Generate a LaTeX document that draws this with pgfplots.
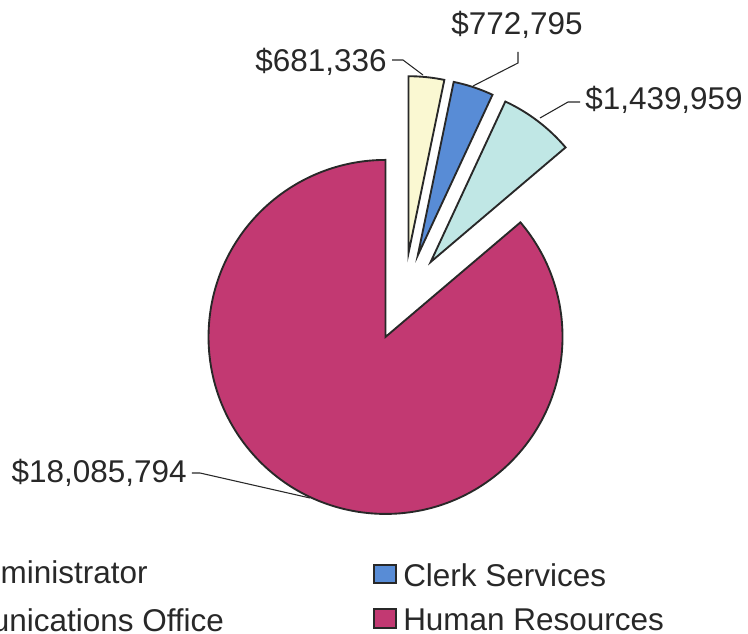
\documentclass[border=0pt]{standalone}
\usepackage{pgfplots}
\pgfplotsset{compat=1.18}
\usepackage{pgfplotstable}
\usepackage{fontspec}
\setmainfont{Liberation Sans}

\definecolor{admin}{RGB}{250,248,210}
\definecolor{clerk}{RGB}{88,140,214}
\definecolor{comm}{RGB}{192,231,229}
\definecolor{hr}{RGB}{194,57,114}
\definecolor{ink}{RGB}{40,40,40}

% Budget by department
\pgfplotstableread[col sep=comma]{
name,value
City Administrator,681336
Clerk Services,772795
Communications Office,1439959
Human Resources,18085794
}\budget

\begin{document}
\begin{tikzpicture}
\pgfplotstablegetelem{0}{value}\of\budget \edef\vA{\pgfplotsretval}
\pgfplotstablegetelem{1}{value}\of\budget \edef\vB{\pgfplotsretval}
\pgfplotstablegetelem{2}{value}\of\budget \edef\vC{\pgfplotsretval}
\pgfplotstablegetelem{3}{value}\of\budget \edef\vD{\pgfplotsretval}
\edef\tot{\fpeval{\vA+\vB+\vC+\vD}}
% slice boundaries, clockwise from 12 o'clock
\edef\aA{90}
\edef\aB{\fpeval{round(\aA-360*\vA/\tot,4)}}
\edef\aC{\fpeval{round(\aB-360*\vB/\tot,4)}}
\edef\aD{\fpeval{round(\aC-360*\vC/\tot,4)}}
\edef\aE{\fpeval{round(\aD-360*\vD/\tot,4)}}
\edef\mA{\fpeval{round((\aA+\aB)/2,4)}}
\edef\mB{\fpeval{round((\aB+\aC)/2,4)}}
\edef\mC{\fpeval{round((\aC+\aD)/2,4)}}
\edef\mD{\fpeval{round((\aD+\aE)/2,4)}}
\def\R{132.75pt}  % pie radius
\def\X{33pt}      % explosion distance
\newcommand\slice[4]{%
  \draw[fill=#1, draw=ink, line width=1.4pt]
    ([shift={(#4:\X)}]axis cs:0,0) -- ++(#2:\R)
    arc[start angle=#2, end angle=#3, radius=\R] -- cycle;}
\useasboundingbox (0,0) rectangle (561pt,475.5pt);
\clip (0,0) rectangle (561pt,475.5pt);
\begin{axis}[at={(0,0)}, anchor=south west, x=0.75pt, y=0.75pt,
  xmin=-404, xmax=344, ymin=-337, ymax=297,
  hide axis, clip=false, disabledatascaling]
\slice{admin}{\aA}{\aB}{\mA}
\slice{clerk}{\aB}{\aC}{\mB}
\slice{comm}{\aC}{\aD}{\mC}
\slice{hr}{\aD}{\aE}{\mD}
% leader lines
\draw[ink, line width=0.8pt] (axis cs:-12,237) -- (axis cs:-1,237) -- (axis cs:19,222);
\draw[ink, line width=0.8pt] (axis cs:114,245) -- (axis cs:114,234) -- (axis cs:69,211);
\draw[ink, line width=0.8pt] (axis cs:176,195) -- (axis cs:164,195) -- (axis cs:136,179);
\draw[ink, line width=0.8pt] (axis cs:-212,-176) -- (axis cs:-204,-176) -- (axis cs:-94,-201);
% value labels
\begin{scope}[every node/.style={inner sep=0pt, text=ink, font=\fontsize{23.6pt}{28pt}\selectfont}]
\node[anchor=east] at (axis cs:-17,235) {\$681,336};
\node[anchor=center] at (axis cs:113,272) {\$772,795};
\node[anchor=west] at (axis cs:181,197) {\$1,439,959};
\node[anchor=east] at (axis cs:-217,-176) {\$18,085,794};
% legend
\node[anchor=west] at (axis cs:-505,-278) {City Administrator};
\node[anchor=west] at (axis cs:-505,-323) {Communications Office};
\node[anchor=west] at (axis cs:-1,-278) {Clerk Services};
\node[anchor=west] at (axis cs:-1,-323) {Human Resources};
\end{scope}
\draw[fill=admin, draw=ink, line width=1.1pt] (axis cs:-534,-268) rectangle (axis cs:-512,-286);
\draw[fill=comm, draw=ink, line width=1.1pt] (axis cs:-534,-312) rectangle (axis cs:-512,-331);
\draw[fill=clerk, draw=ink, line width=1.1pt] (axis cs:-30,-268) rectangle (axis cs:-8,-286);
\draw[fill=hr, draw=ink, line width=1.1pt] (axis cs:-30,-312) rectangle (axis cs:-8,-331);
\end{axis}
\end{tikzpicture}
\end{document}
